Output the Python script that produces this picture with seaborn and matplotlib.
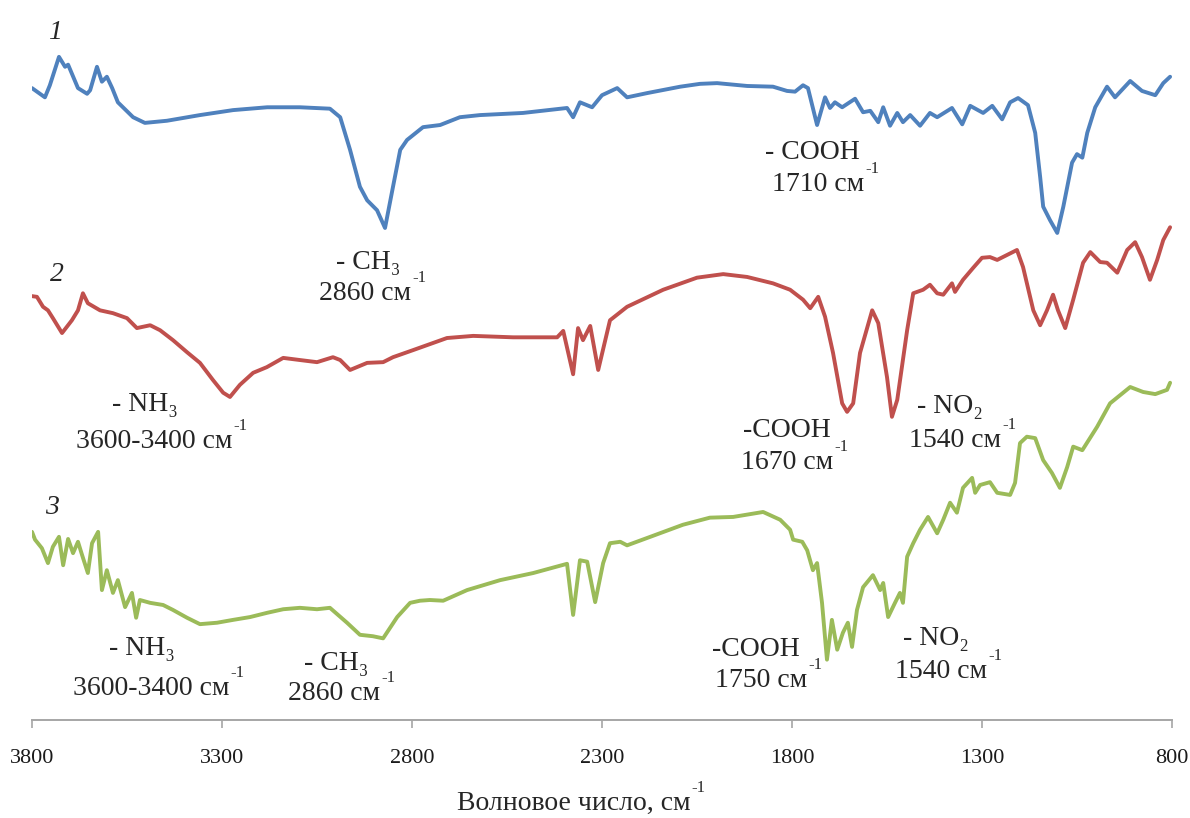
import numpy as np
import pandas as pd
import matplotlib
matplotlib.use("Agg")
import matplotlib.pyplot as plt
import seaborn as sns

# ---------------- data (wavenumber, cm^-1 ; offset transmittance, a.u.) -------------
wn_1 = [3800, 3766, 3753, 3729, 3713, 3705, 3679, 3655, 3647, 3629, 3616, 3603, 3589, 3574,
        3534, 3503, 3445, 3358, 3271, 3181, 3095, 3016, 2989, 2963, 2937, 2918, 2892, 2871,
        2850, 2831, 2813, 2771, 2726, 2674, 2621, 2508, 2392, 2376, 2358, 2326, 2300, 2260,
        2234, 2181, 2094, 2042, 1997, 1918, 1850, 1813, 1792, 1771, 1758, 1734, 1713, 1700,
        1687, 1668, 1634, 1613, 1594, 1573, 1560, 1542, 1523, 1508, 1489, 1463, 1437, 1418,
        1379, 1352, 1331, 1297, 1273, 1247, 1226, 1205, 1179, 1160, 1147, 1139, 1121, 1102,
        1086, 1063, 1050, 1036, 1023, 1002, 971, 950, 910, 879, 844, 823, 805]
val_1 = [89.0, 87.7, 89.4, 93.4, 92.0, 92.3, 89.0, 88.2, 88.7, 92.0, 89.9, 90.6, 89.0, 87.0,
         84.9, 84.1, 84.4, 85.2, 85.9, 86.3, 86.3, 86.1, 84.9, 80.3, 75.1, 73.2, 71.8, 69.3,
         75.1, 80.3, 81.7, 83.5, 83.8, 84.9, 85.2, 85.5, 86.2, 84.9, 87.0, 86.3, 88.0, 89.0,
         87.7, 88.3, 89.2, 89.6, 89.7, 89.3, 89.2, 88.6, 88.5, 89.4, 89.0, 83.8, 87.7, 86.2,
         87.0, 86.3, 87.5, 85.6, 85.8, 84.2, 86.3, 83.7, 85.5, 84.2, 85.2, 83.7, 85.5, 84.9,
         86.2, 83.9, 86.5, 85.5, 86.5, 84.6, 87.0, 87.6, 86.6, 82.7, 76.5, 72.3, 70.4, 68.6,
         72.3, 78.5, 79.7, 79.2, 82.7, 86.3, 89.2, 87.7, 90.0, 88.6, 88.0, 89.7, 90.6]

wn_2 = [3800, 3787, 3771, 3758, 3745, 3721, 3708, 3695, 3679, 3666, 3653, 3621, 3587, 3550,
        3524, 3489, 3463, 3429, 3392, 3358, 3324, 3297, 3279, 3253, 3218, 3182, 3139, 3095,
        3050, 3008, 2989, 2963, 2918, 2876, 2850, 2797, 2708, 2639, 2534, 2418, 2402, 2376,
        2363, 2350, 2331, 2310, 2279, 2234, 2139, 2050, 1981, 1918, 1850, 1805, 1771, 1752,
        1731, 1713, 1692, 1668, 1655, 1639, 1621, 1589, 1573, 1550, 1537, 1523, 1497, 1481,
        1455, 1437, 1418, 1402, 1379, 1371, 1350, 1323, 1300, 1279, 1260, 1208, 1192, 1165,
        1147, 1129, 1113, 1100, 1081, 1060, 1034, 1015, 989, 971, 944, 918, 897, 879, 858,
        839, 823, 805]
val_2 = [59.7, 59.6, 58.2, 57.7, 56.6, 54.5, 55.4, 56.3, 57.7, 60.1, 58.7, 57.7, 57.3, 56.6,
         55.2, 55.6, 54.9, 53.5, 51.8, 50.3, 47.9, 46.1, 45.5, 47.2, 48.9, 49.7, 51.0, 50.7,
         50.4, 51.1, 50.7, 49.3, 50.3, 50.4, 51.1, 52.1, 53.8, 54.1, 53.9, 53.9, 54.8, 48.7,
         55.2, 53.5, 55.5, 49.3, 56.3, 58.2, 60.6, 62.3, 62.8, 62.4, 61.5, 60.6, 59.2, 58.0,
         59.6, 56.8, 51.7, 44.6, 43.4, 44.6, 51.7, 57.7, 55.9, 48.3, 42.7, 45.1, 54.9, 60.1,
         60.6, 61.3, 60.1, 59.9, 61.5, 60.3, 62.0, 63.7, 65.1, 65.2, 64.8, 66.2, 63.8, 57.7,
         55.6, 57.7, 59.9, 57.7, 55.2, 59.2, 64.4, 65.9, 64.5, 64.4, 63.0, 66.2, 67.3, 65.2, 62.0,
         64.8, 67.6, 69.4]

wn_3 = [3800, 3792, 3774, 3758, 3745, 3729, 3718, 3705, 3692, 3679, 3668, 3653, 3642, 3626,
        3616, 3603, 3587, 3574, 3555, 3537, 3526, 3516, 3489, 3455, 3429, 3392, 3358, 3313,
        3271, 3226, 3181, 3139, 3095, 3050, 3016, 2971, 2937, 2903, 2876, 2839, 2805, 2779,
        2753, 2718, 2655, 2568, 2481, 2392, 2376, 2358, 2339, 2318, 2297, 2279, 2252, 2234,
        2173, 2087, 2016, 1955, 1876, 1831, 1805, 1797, 1773, 1760, 1745, 1734, 1721, 1708,
        1695, 1681, 1666, 1653, 1642, 1629, 1613, 1587, 1568, 1560, 1547, 1529, 1516, 1508,
        1497, 1481, 1463, 1442, 1418, 1402, 1384, 1366, 1350, 1326, 1318, 1305, 1279, 1260,
        1226, 1213, 1200, 1182, 1160, 1139, 1116, 1095, 1076, 1060, 1036, 997, 963, 910, 876,
        844, 813, 805]
val_3 = [26.5, 25.4, 24.2, 22.1, 24.4, 25.8, 21.8, 25.5, 23.5, 25.1, 23.2, 20.7, 24.9, 26.5,
         18.3, 21.1, 17.9, 19.7, 15.9, 17.9, 14.4, 16.9, 16.5, 16.2, 15.5, 14.4, 13.5, 13.7,
         14.1, 14.5, 15.1, 15.6, 15.8, 15.6, 15.8, 13.7, 12.0, 11.8, 11.5, 14.5, 16.5, 16.8,
         16.9, 16.8, 18.3, 19.7, 20.7, 22.0, 14.8, 22.5, 22.3, 16.6, 22.1, 24.9, 25.1, 24.6,
         25.8, 27.5, 28.5, 28.6, 29.3, 28.2, 26.8, 25.4, 25.1, 23.9, 21.1, 22.1, 16.5, 8.5,
         14.1, 9.9, 12.3, 13.7, 10.3, 15.5, 18.7, 20.4, 18.3, 19.3, 14.5, 16.5, 17.9, 16.5,
         23.0, 24.9, 26.8, 28.6, 26.3, 28.2, 30.6, 29.2, 32.7, 34.1, 32.0, 33.1, 33.5, 32.0,
         31.7, 33.4, 39.0, 39.9, 39.7, 36.6, 34.8, 32.7, 35.6, 38.5, 38.0, 41.3, 44.6, 46.9, 46.2,
         45.9, 46.5, 47.5]

series_names = ["1", "2", "3"]
x_ticks = [3800, 3300, 2800, 2300, 1800, 1300, 800]
x_label = "Волновое число, см"

# annotation texts: (line1, line2, x1, y1, x2, y2)
annotations = [
    ("- CH\u2083", "2860 см", 2916, 64.5, 2924, 60.1),
    ("- COOH", "1710 см", 1747, 79.9, 1731, 75.4),
    ("- NH\u2083", "3600-3400 см", 3503, 44.4, 3479, 39.2),
    ("-COOH", "1670 см", 1813, 40.8, 1813, 36.2),
    ("- NO\u2082", "1540 см", 1384, 44.1, 1371, 39.4),
    ("- NH\u2083", "3600-3400 см", 3511, 10.1, 3487, 4.5),
    ("- CH\u2083", "2860 см", 3000, 8.0, 3005, 3.8),
    ("-COOH", "1750 см", 1894, 9.9, 1881, 5.6),
    ("- NO\u2082", "1540 см", 1421, 11.5, 1408, 6.8),
]
number_labels = [("1", 3739, 96.8), ("2", 3734, 62.7), ("3", 3747, 30.0)]

# ---------------- build frame ----------------
df = pd.concat([
    pd.DataFrame({"wavenumber": wn_1, "value": val_1, "series": "1"}),
    pd.DataFrame({"wavenumber": wn_2, "value": val_2, "series": "2"}),
    pd.DataFrame({"wavenumber": wn_3, "value": val_3, "series": "3"}),
], ignore_index=True)

sns.set_style("white")
SERIF = ["Liberation Serif", "DejaVu Serif"]
plt.rcParams["font.family"] = SERIF

fig = plt.figure(figsize=(11.9, 8.18), dpi=100)
ax = fig.add_axes([32 / 1190, 98 / 818, 1140 / 1190, 710 / 818])

palette = {"1": "#4F81BD", "2": "#C0504D", "3": "#9BBB59"}
sns.lineplot(data=df, x="wavenumber", y="value", hue="series", palette=palette,
             estimator=None, sort=True, legend=False, linewidth=2.8, ax=ax)
for ln in ax.get_lines():
    ln.set_solid_joinstyle("round")
    ln.set_solid_capstyle("round")

ax.set_xlim(3800, 800)
ax.set_ylim(0, 100)
ax.set_xticks(x_ticks)
ax.set_xticklabels([str(t) for t in x_ticks])
ax.set_yticks([])
ax.set_xlabel("")
ax.set_ylabel("")
for s in ["top", "right", "left"]:
    ax.spines[s].set_visible(False)
ax.spines["bottom"].set_color("#A6A6A6")
ax.spines["bottom"].set_linewidth(1.4)
ax.tick_params(axis="x", bottom=True, direction="out", length=6, width=1.2,
               color="#A6A6A6", pad=15, labelsize=16, labelcolor="#1a1a1a")

FS = 20
for l1, l2, x1, y1, x2, y2 in annotations:
    ax.text(x1, y1, l1, fontsize=FS, ha="center", va="center", family=SERIF)
    t2 = ax.text(x2, y2, l2, fontsize=FS, ha="center", va="center", family=SERIF)
    ax.annotate("-1", xy=(1.0, 0.8), xycoords=t2, xytext=(1, 0),
                textcoords="offset points", fontsize=12, ha="left", va="bottom",
                family=SERIF)

for lab, x, y in number_labels:
    ax.text(x, y, lab, fontsize=20, style="italic", ha="center", va="center", family=SERIF)

xl = ax.text(0.475, -0.117, x_label, transform=ax.transAxes, fontsize=20,
             ha="center", va="center", family=SERIF)
ax.annotate("-1", xy=(1.0, 0.8), xycoords=xl, xytext=(1, 0),
            textcoords="offset points", fontsize=12, ha="left", va="bottom", family=SERIF)

fig.savefig("out.png", dpi=100)
